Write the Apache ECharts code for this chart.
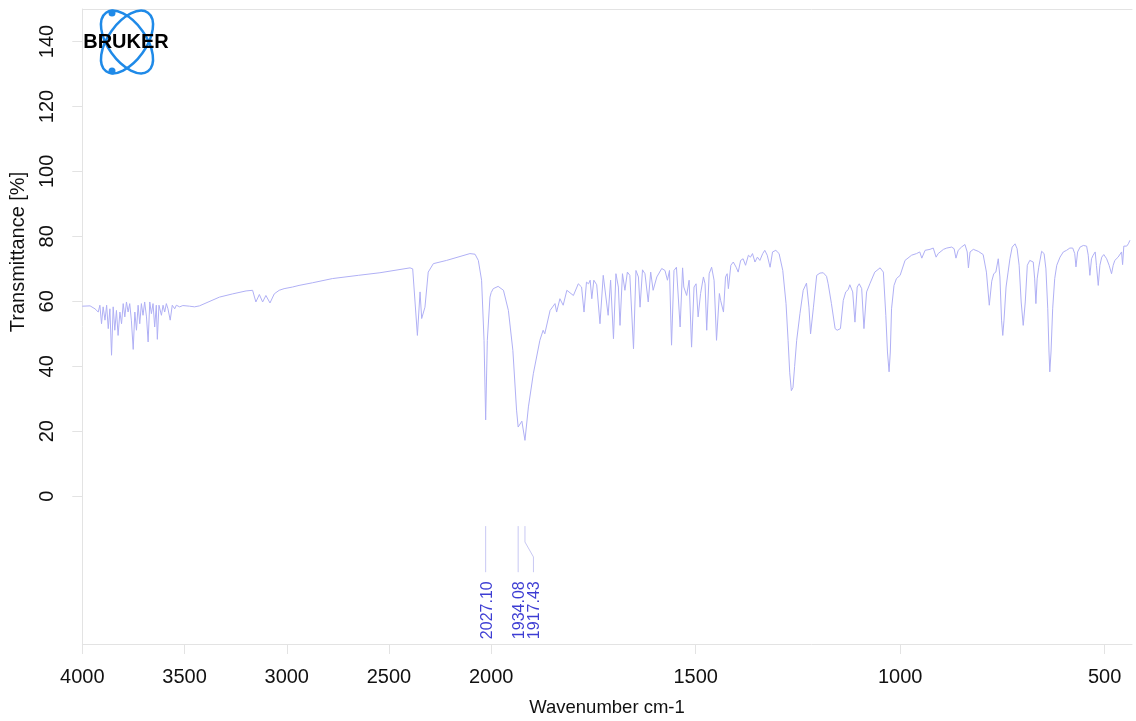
<!DOCTYPE html>
<html>
<head>
<meta charset="utf-8">
<script src="https://cdn.jsdelivr.net/npm/echarts@6/dist/echarts.min.js"></script>
<style>
  html, body { margin: 0; padding: 0; background: #fff; }
  #chart { width: 1136px; height: 721px; }
</style>
</head>
<body>
<div id="chart"></div>
<script>
// IR spectrum (wavenumber cm-1, descending)
const wavenumbers = [
  4000, 3962, 3954, 3938, 3930, 3922, 3914, 3906, 3898, 3889, 3881, 3873, 3865, 3857, 3849, 3841,
  3833, 3825, 3816, 3808, 3800, 3792, 3784, 3776, 3768, 3760, 3751, 3743, 3735, 3727, 3719, 3711,
  3703, 3695, 3686, 3678, 3670, 3662, 3654, 3646, 3638, 3633, 3625, 3613, 3605, 3597, 3589, 3581,
  3570, 3560, 3548, 3540, 3524, 3508, 3475, 3451, 3427, 3329, 3264, 3199, 3167, 3151, 3134, 3118,
  3102, 3082, 3061, 3037, 3013, 2972, 2940, 2875, 2777, 2650, 2544, 2397, 2384, 2361, 2348, 2340,
  2324, 2308, 2283, 2218, 2104, 2079, 2063, 2047, 2035, 2027.1, 2019, 2006, 2000,
  1995, 1983, 1970, 1958, 1947, 1938, 1934.08, 1925, 1917.43, 1909, 1897, 1881, 1873, 1869, 1856, 1844,
  1840, 1832, 1824, 1815, 1799, 1787, 1783, 1779, 1773, 1767, 1762, 1758, 1754, 1749, 1742, 1734,
  1726, 1722, 1714, 1708, 1701, 1695, 1689, 1685, 1679, 1673, 1667, 1661, 1652, 1646, 1640, 1636,
  1630, 1624, 1616, 1610, 1604, 1595, 1583, 1575, 1569, 1564, 1559, 1553, 1547, 1538, 1532, 1529,
  1522, 1516, 1510, 1504, 1499, 1494, 1488, 1481, 1477, 1473, 1467, 1461, 1455, 1449, 1442, 1439,
  1432, 1427, 1423, 1420, 1414, 1408, 1401, 1396, 1390, 1384, 1378, 1371, 1366, 1361, 1355, 1349,
  1343, 1336, 1331, 1325, 1318, 1312, 1304, 1296, 1287, 1279, 1274, 1270, 1266, 1262, 1258, 1253,
  1245, 1237, 1229, 1223, 1219, 1212, 1204, 1196, 1188, 1180, 1176, 1168, 1159, 1154, 1146, 1139,
  1133, 1127, 1123, 1116, 1110.5, 1105, 1100, 1094, 1088.5, 1082, 1074, 1062, 1049, 1041, 1035, 1031,
  1027, 1024, 1021, 1015, 1009, 1000, 988, 972, 960, 952, 947, 939, 927, 919, 912, 907,
  894, 886, 874, 868, 863.5, 858, 850, 841.5, 836, 833, 829, 821, 809, 797, 789, 782,
  776, 771, 766, 760, 756, 752, 749, 746, 741, 736, 731.5, 726, 719, 714, 709, 704,
  699, 694, 689, 683, 678.5, 674.5, 671, 668, 665, 661, 654, 648, 643.5, 639, 636, 634,
  631, 627, 622, 617, 609, 601, 593, 585, 578, 573, 570, 566, 560, 552, 544, 540,
  536, 532, 528, 523, 520, 515.5, 511.5, 507, 502, 495, 489, 483, 479, 475, 471, 467,
  463, 458.5, 456, 453, 446, 442, 438
];
const transmittance = [
  58.5, 58.6, 58.3, 57.7, 57.2, 56.7, 58.8, 53.1, 58.3, 54.2, 58.8, 51.6, 57.7, 43.4, 58.3, 51.1,
  57.2, 49.5, 56.7, 53.1, 59.3, 55.2, 59.8, 56.7, 59.3, 54.2, 45.2, 56.7, 51.1, 58.8, 53.1, 59.3,
  55.7, 59.8, 55.2, 47.5, 59.8, 56.2, 59.3, 52.1, 58.8, 48.3, 58.8, 55.7, 58.8, 56.7, 59.3, 57.7,
  54.2, 58.8, 57.7, 58.8, 58.3, 58.7, 58.5, 58.3, 58.6, 61.3, 62.3, 63.2, 63.4, 59.8, 62.1, 59.8,
  61.8, 59.5, 62.3, 63.4, 63.9, 64.4, 64.9, 65.7, 67.0, 68.0, 68.8, 70.3, 70.0, 49.5, 62.9, 54.7,
  58.2, 69.0, 71.6, 72.6, 74.7, 74.5, 72.6, 66.5, 48.0, 23.5, 48.0, 61.3, 62.7,
  63.9, 64.6, 63.4, 57.2, 44.9, 26.5, 21.3, 23.1, 17.2, 27.5, 37.7, 48.0, 51.1, 50.0, 57.2, 59.3,
  56.7, 60.8, 58.8, 63.4, 61.8, 65.4, 65.4, 64.4, 56.7, 65.9, 65.4, 66.5, 60.8, 66.5, 65.1, 53.1,
  68.0, 67.5, 55.7, 66.5, 48.5, 68.5, 64.4, 52.6, 68.5, 63.4, 69.0, 68.0, 45.4, 69.5, 67.5, 58.2,
  69.7, 68.5, 59.8, 69.0, 63.4, 67.5, 70.1, 69.5, 66.5, 69.5, 46.5, 69.5, 70.5, 52.1, 70.3, 64.4,
  61.8, 66.5, 45.9, 64.4, 65.4, 55.2, 62.4, 67.5, 65.4, 51.1, 68.5, 70.5, 66.5, 48.0, 62.4, 60.3,
  56.7, 67.5, 68.5, 63.9, 71.1, 72.1, 70.5, 69.0, 72.6, 73.1, 71.1, 74.2, 73.6, 74.7, 72.1, 73.6,
  72.6, 74.7, 75.7, 74.2, 70.5, 75.2, 75.7, 74.7, 69.5, 59.3, 48.0, 38.0, 32.5, 33.5, 40.0, 48.0,
  56.2, 63.4, 65.6, 58.2, 50.0, 58.2, 68.0, 68.7, 68.8, 67.7, 65.4, 59.3, 51.6, 51.1, 51.6, 60.3,
  62.9, 63.6, 65.1, 62.9, 53.6, 64.4, 65.4, 63.9, 51.6, 62.9, 65.4, 69.0, 70.3, 69.0, 55.7, 44.4,
  38.3, 44.4, 57.7, 64.9, 67.0, 68.0, 72.6, 74.2, 74.7, 75.2, 73.3, 75.7, 76.0, 76.4, 73.6, 74.7,
  76.0, 76.4, 76.7, 76.2, 73.3, 75.7, 76.7, 77.5, 75.2, 70.3, 75.2, 76.0, 75.4, 74.4, 69.0, 58.8,
  66.2, 68.5, 69.0, 73.1, 67.5, 54.2, 49.5, 54.2, 64.4, 69.0, 73.1, 76.7, 77.7, 76.2, 71.1, 59.8,
  52.6, 59.8, 71.1, 72.6, 73.1, 72.1, 66.9, 59.3, 66.9, 70.5, 75.4, 74.7, 70.0, 57.7, 44.4, 38.3,
  44.4, 57.7, 67.0, 71.1, 73.6, 75.2, 75.7, 76.4, 76.4, 74.7, 70.6, 75.2, 76.7, 77.2, 77.0, 74.2,
  68.0, 73.1, 74.2, 75.2, 71.1, 64.9, 71.1, 73.6, 74.4, 73.1, 71.1, 68.5, 71.1, 72.6, 73.1, 73.6,
  74.2, 75.2, 71.3, 77.0, 77.0, 77.7, 78.8
];

// picked peaks
const peakPositions = [2027.10, 1934.08, 1917.43];
const peakLabels = ['2027.10', '1934.08', '1917.43'];
const peakLabelAt = [2027.10, 1934.08, 1896.7];

const xTicksHigh = [4000, 3500, 3000, 2500, 2000];
const xTicksLow = [500, 1000, 1500];
const yTicks = [0, 20, 40, 60, 80, 100, 120, 140];

const SPLIT = 2000;           // scale doubles below 2000 cm-1
const Y_MIN = -45.5, Y_MAX = 150;
const MARK_TOP = -9.2, MARK_BEND1 = -14.1, MARK_BEND2 = -18.7, MARK_BOTTOM = -23.4, LABEL_Y = -26.2;

const FONT = '"Liberation Sans", Arial, Helvetica, sans-serif';
const AXIS_GRAY = '#e3e3e3';
const SPEC_COLOR = '#b0b0f5';
const MARK_COLOR = '#c8c8f3';
const LABEL_BLUE = '#0c0cc8';
const LOGO_BLUE = '#1f8ae8';

const specHigh = [], specLow = [];
wavenumbers.forEach((w, i) => {
  if (w >= SPLIT) specHigh.push([w, transmittance[i]]);
  if (w <= SPLIT) specLow.push([w, transmittance[i]]);
});

// peak marker lines (in data units), one series per peak
const markSeries = peakPositions.map((p, i) => {
  const at = peakLabelAt[i];
  const pts = at === p
    ? [[p, MARK_TOP], [p, MARK_BOTTOM]]
    : [[p, MARK_TOP], [p, MARK_BEND1], [at, MARK_BEND2], [at, MARK_BOTTOM]];
  const g = p >= SPLIT ? 0 : 1;
  return {
    type: 'line', xAxisIndex: g, yAxisIndex: g, data: pts, symbol: 'none',
    lineStyle: { color: MARK_COLOR, width: 1 }, silent: true, z: 3
  };
});

const labelSeries = [0, 1].map(g => ({
  type: 'scatter', xAxisIndex: g, yAxisIndex: g, symbolSize: 0, silent: true, z: 4,
  data: peakLabels
    .map((t, i) => ({ name: t, value: [peakLabelAt[i], LABEL_Y] }))
    .filter(d => (g === 0 ? d.value[0] >= SPLIT : d.value[0] < SPLIT)),
  label: {
    show: true, position: 'inside', rotate: 90, align: 'right', verticalAlign: 'middle',
    offset: [0, 1.5],
    formatter: p => p.name, color: LABEL_BLUE, fontSize: 16, fontFamily: FONT
  }
}));

const plain = v => String(v);

const baseX = {
  type: 'value', inverse: true, splitLine: { show: false },
  axisLine: { show: true, onZero: false, lineStyle: { color: AXIS_GRAY, width: 1 } },
  axisTick: { show: true, length: 10, lineStyle: { color: AXIS_GRAY } },
  axisLabel: { fontSize: 20, color: '#111', fontFamily: FONT, margin: 23, formatter: plain,
               showMinLabel: true, showMaxLabel: true }
};
const topX = {
  type: 'value', inverse: true, position: 'top', splitLine: { show: false },
  axisLine: { show: true, onZero: false, lineStyle: { color: AXIS_GRAY, width: 1 } },
  axisTick: { show: false }, axisLabel: { show: false }
};

const chart = echarts.init(document.getElementById('chart'), null, { renderer: 'canvas' });
chart.setOption({
  animation: false,
  backgroundColor: '#fff',
  grid: [
    { left: 82.3, top: 9, width: 408.9, height: 635 },
    { left: 491.2, top: 9, width: 640.8, height: 635 }
  ],
  xAxis: [
    { ...baseX, gridIndex: 0, min: 2000, max: 4000, interval: 500,
      axisTick: { ...baseX.axisTick, customValues: xTicksHigh },
      axisLabel: { ...baseX.axisLabel, customValues: xTicksHigh } },
    { ...baseX, gridIndex: 1, min: 433, max: 2000,
      axisTick: { ...baseX.axisTick, customValues: xTicksLow },
      axisLabel: { ...baseX.axisLabel, customValues: xTicksLow } },
    { ...topX, gridIndex: 0, min: 2000, max: 4000 },
    { ...topX, gridIndex: 1, min: 433, max: 2000 }
  ],
  yAxis: [
    { type: 'value', gridIndex: 0, min: Y_MIN, max: Y_MAX, splitLine: { show: false },
      axisLine: { show: true, onZero: false, lineStyle: { color: AXIS_GRAY, width: 1 } },
      axisTick: { show: true, length: 10, lineStyle: { color: AXIS_GRAY }, customValues: yTicks },
      axisLabel: { customValues: yTicks, rotate: 90, fontSize: 20, color: '#111', fontFamily: FONT,
                   margin: 25, formatter: plain } },
    { type: 'value', gridIndex: 1, min: Y_MIN, max: Y_MAX, show: false }
  ],
  series: [
    { type: 'line', xAxisIndex: 0, yAxisIndex: 0, data: specHigh, symbol: 'none',
      lineStyle: { color: SPEC_COLOR, width: 1 }, silent: true, z: 2 },
    { type: 'line', xAxisIndex: 1, yAxisIndex: 1, data: specLow, symbol: 'none',
      lineStyle: { color: SPEC_COLOR, width: 1 }, silent: true, z: 2 },
    ...markSeries,
    ...labelSeries
  ],
  graphic: [
    { type: 'text', x: 18, y: 252, rotation: Math.PI / 2,
      style: { text: 'Transmittance [%]', font: '20px ' + FONT, fill: '#111',
               align: 'center', verticalAlign: 'middle', textAlign: 'center', textVerticalAlign: 'middle' } },
    { type: 'text', x: 607, y: 708,
      style: { text: 'Wavenumber cm-1', font: '18.5px ' + FONT, fill: '#111',
               align: 'center', verticalAlign: 'middle', textAlign: 'center', textVerticalAlign: 'middle' } },
    // Bruker logo
    { type: 'ellipse', x: 127, y: 42, rotation: -0.95, shape: { cx: 0, cy: 0, rx: 36, ry: 19 },
      style: { fill: 'none', stroke: LOGO_BLUE, lineWidth: 2.5 }, z: 10 },
    { type: 'ellipse', x: 127, y: 42, rotation: 0.95, shape: { cx: 0, cy: 0, rx: 36, ry: 19 },
      style: { fill: 'none', stroke: LOGO_BLUE, lineWidth: 2.5 }, z: 10 },
    { type: 'circle', shape: { cx: 112, cy: 13, r: 3.5 }, style: { fill: LOGO_BLUE }, z: 10 },
    { type: 'circle', shape: { cx: 112, cy: 71, r: 3.5 }, style: { fill: LOGO_BLUE }, z: 10 },
    { type: 'text', x: 126, y: 42, z: 11,
      style: { text: 'BRUKER', font: 'bold 20px ' + FONT, fill: '#000',
               align: 'center', verticalAlign: 'middle', textAlign: 'center', textVerticalAlign: 'middle' } }
  ]
});
</script>
</body>
</html>
